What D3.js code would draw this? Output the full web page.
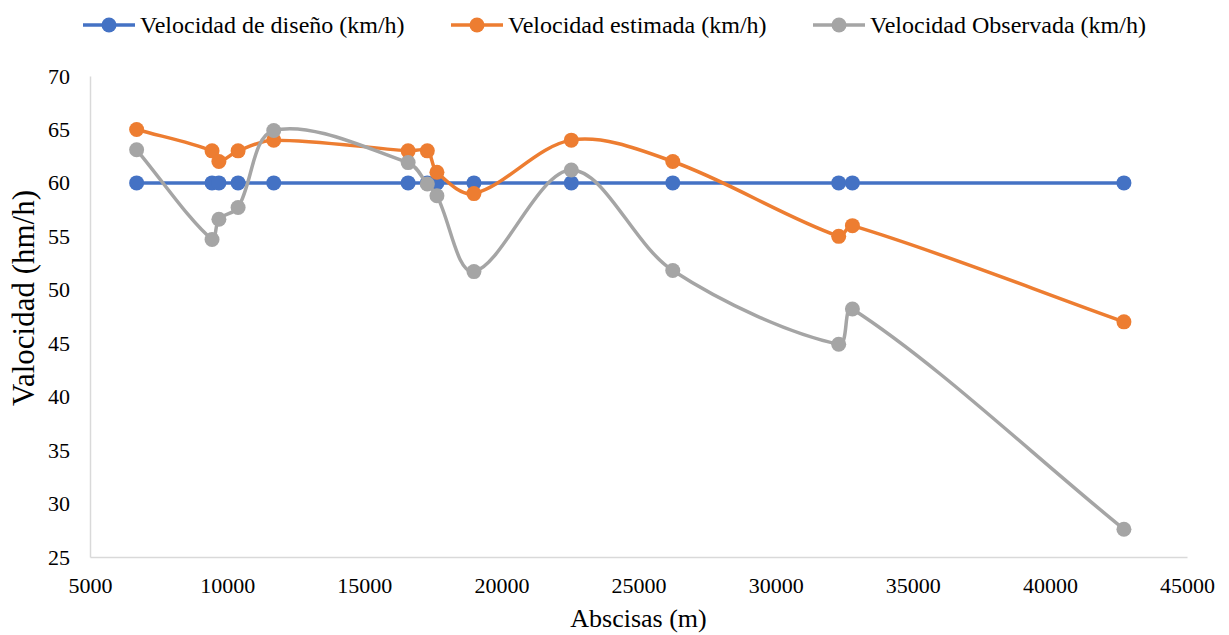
<!DOCTYPE html>
<html>
<head>
<meta charset="utf-8">
<script src="https://cdn.jsdelivr.net/npm/d3@7"></script>
<style>
  html, body { margin: 0; padding: 0; background: #fff; }
</style>
</head>
<body>
<svg id="chart" width="1229" height="635" font-family="Liberation Serif"></svg>
<script>
// Abscissa of each station (m)
const abscisas = [6700, 9450, 9700, 10400, 11700, 16600, 17300, 17650, 19000, 22550, 26250, 32300, 32800, 42700];
// Speeds (km/h)
const velDiseno    = [60, 60, 60, 60, 60, 60, 60, 60, 60, 60, 60, 60, 60, 60];
const velEstimada  = [65, 63, 62, 63, 64, 63, 63, 61, 59, 64, 62, 55, 56, 47];
const velObservada = [63.1, 54.7, 56.6, 57.7, 64.9, 61.9, 59.9, 58.8, 51.7, 61.2, 51.8, 44.9, 48.2, 27.6];

const xTicks = [5000, 10000, 15000, 20000, 25000, 30000, 35000, 40000, 45000];
const yTicks = [25, 30, 35, 40, 45, 50, 55, 60, 65, 70];

const seriesNames = ["Velocidad de diseño (km/h)", "Velocidad estimada (km/h)", "Velocidad Observada (km/h)"];
const seriesColors = ["#4472C4", "#ED7D31", "#A5A5A5"];
const seriesValues = [velDiseno, velEstimada, velObservada];

const FONT = '"Liberation Serif"';
const svg = d3.select("#chart");
const W = 1229, H = 635;
const margin = { left: 90, right: 42, top: 76, bottom: 78 };

const x = d3.scaleLinear().domain([5000, 45000]).range([margin.left, W - margin.right]);
const y = d3.scaleLinear().domain([25, 70]).range([H - margin.bottom, margin.top]);

// Smoothed line in the style of spreadsheet "smoothed lines": Bezier segments whose
// control arms follow the neighbour chord, scaled by relative segment length.
function SmoothCurve(context) { this._context = context; }
SmoothCurve.prototype = {
  areaStart() { this._line = 0; },
  areaEnd() { this._line = NaN; },
  lineStart() { this._pts = []; },
  point(px, py) { this._pts.push([+px, +py]); },
  lineEnd() {
    const p = this._pts, n = p.length, c = this._context;
    if (!n) return;
    c.moveTo(p[0][0], p[0][1]);
    const t = 1 / 3;
    const dist = (a, b) => Math.hypot(b[0] - a[0], b[1] - a[1]);
    for (let i = 0; i < n - 1; i++) {
      const p0 = p[Math.max(i - 1, 0)], p1 = p[i], p2 = p[i + 1], p3 = p[Math.min(i + 2, n - 1)];
      const d01 = dist(p0, p1), d12 = dist(p1, p2), d23 = dist(p2, p3);
      const f1 = (d01 + d12) > 0 ? t * d12 / (d01 + d12) : 0;
      const f2 = (d12 + d23) > 0 ? t * d12 / (d12 + d23) : 0;
      const a0 = p0 === p1 ? [2 * p1[0] - p2[0], 2 * p1[1] - p2[1]] : p0;
      const a3 = p3 === p2 ? [2 * p2[0] - p1[0], 2 * p2[1] - p1[1]] : p3;
      const g1 = p0 === p1 ? 0.5 * t : f1;
      const g2 = p3 === p2 ? 0.5 * t : f2;
      c.bezierCurveTo(
        p1[0] + (p2[0] - a0[0]) * g1, p1[1] + (p2[1] - a0[1]) * g1,
        p2[0] - (a3[0] - p1[0]) * g2, p2[1] - (a3[1] - p1[1]) * g2,
        p2[0], p2[1]);
    }
  }
};
const smoothCurve = ctx => new SmoothCurve(ctx);

// axes
const xAxis = svg.append("g")
  .attr("transform", `translate(0,${y(25)})`)
  .call(d3.axisBottom(x).tickValues(xTicks).tickSize(0).tickPadding(20).tickFormat(d3.format("d")));
xAxis.attr("font-family", "Liberation Serif");
xAxis.select(".domain").attr("stroke", "#d9d9d9").attr("stroke-width", 1.5);
xAxis.selectAll("text").style("font-family", FONT).style("font-size", "22px").attr("fill", "#000");

const yAxis = svg.append("g")
  .attr("transform", `translate(${x(5000)},0)`)
  .call(d3.axisLeft(y).tickValues(yTicks).tickSize(0).tickPadding(20).tickFormat(d3.format("d")));
yAxis.attr("font-family", "Liberation Serif");
yAxis.select(".domain").attr("stroke", "#d9d9d9").attr("stroke-width", 1.5);
yAxis.selectAll("text").style("font-family", FONT).style("font-size", "22px").attr("fill", "#000");

// axis titles
svg.append("text")
  .attr("x", (x(5000) + x(45000)) / 2).attr("y", 627)
  .attr("text-anchor", "middle")
  .style("font-family", FONT).style("font-size", "26px")
  .text("Abscisas (m)");
svg.append("text")
  .attr("transform", `translate(34,298) rotate(-90)`)
  .attr("text-anchor", "middle")
  .style("font-family", FONT).style("font-size", "31px")
  .text("Valocidad (hm/h)");

// series
const line = d3.line()
  .x((d, i) => x(abscisas[i]))
  .y(d => y(d))
  .curve(smoothCurve);

seriesValues.forEach((vals, k) => {
  const g = svg.append("g");
  g.append("path")
    .attr("d", line(vals))
    .attr("fill", "none")
    .attr("stroke", seriesColors[k])
    .attr("stroke-width", 3.5)
    .attr("stroke-linejoin", "round");
  g.selectAll("circle").data(vals).join("circle")
    .attr("cx", (d, i) => x(abscisas[i]))
    .attr("cy", d => y(d))
    .attr("r", 7.5)
    .attr("fill", seriesColors[k]);
});

// legend
const legendX = [83, 451, 813];
seriesNames.forEach((name, k) => {
  const g = svg.append("g").attr("transform", `translate(${legendX[k]},25)`);
  g.append("line").attr("x1", 0).attr("x2", 52).attr("y1", 0).attr("y2", 0)
    .attr("stroke", seriesColors[k]).attr("stroke-width", 3.5);
  g.append("circle").attr("cx", 26).attr("cy", 0).attr("r", 7.5).attr("fill", seriesColors[k]);
  g.append("text").attr("x", 57).attr("y", 8)
    .style("font-family", FONT).style("font-size", "24px")
    .text(name);
});
</script>
</body>
</html>
